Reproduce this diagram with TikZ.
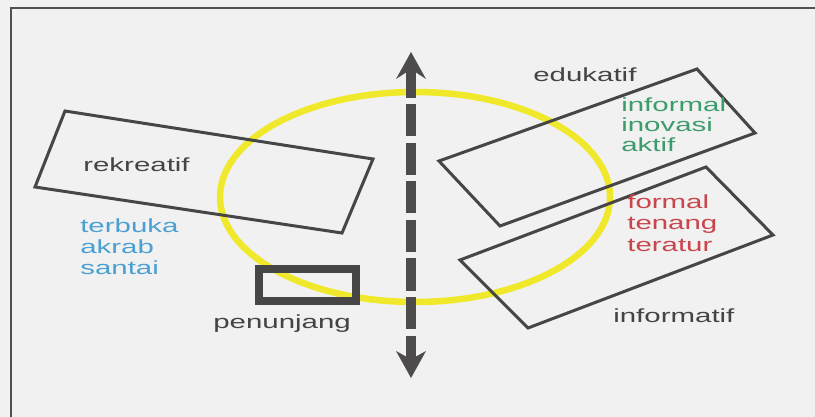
\documentclass[tikz,border=0pt]{standalone}
\usepackage{fontspec}
\setmainfont{Liberation Sans}
\begin{document}
\begin{tikzpicture}[x=1pt,y=-1pt,
  box/.style={draw=boxgray,line width=3pt,line join=miter},
  lbl/.style={inner sep=0pt,anchor=base west,xscale=1.55,font=\fontsize{19}{21}\selectfont},
  headfill/.style={fill=arrowgray,draw=none}]
\definecolor{bg}{HTML}{F1F1F1}
\definecolor{boxgray}{HTML}{464646}
\definecolor{arrowgray}{HTML}{4D4B4B}
\definecolor{txtgray}{HTML}{444444}
\definecolor{ylw}{HTML}{F0E92B}
\definecolor{blu}{HTML}{4BA0D3}
\definecolor{grn}{HTML}{3D9C6C}
\definecolor{rd}{HTML}{C8464C}
\definecolor{frame}{HTML}{505050}
\useasboundingbox (0,0) rectangle (815,417);
\fill[bg] (0,0) rectangle (815,417);
% frame
\coordinate (fbl) at (11,420);
\coordinate (ftl) at (11,8);
\coordinate (ftr) at (818,8);
\draw[frame,line width=2.5pt] (fbl) -- (ftl) -- (ftr);
% yellow ellipse
\coordinate (ec) at (415,197);
\draw[ylw,line width=6.5pt] (ec) ellipse [x radius=195, y radius=105];
% rekreatif box
\coordinate (r1) at (65,111);
\coordinate (r2) at (373,159);
\coordinate (r3) at (342,233);
\coordinate (r4) at (35,187);
\draw[box] (r1) -- (r2) -- (r3) -- (r4) -- cycle;
% edukatif box
\coordinate (e1) at (439,161);
\coordinate (e2) at (697,69);
\coordinate (e3) at (755,133);
\coordinate (e4) at (500,226);
\draw[box] (e1) -- (e2) -- (e3) -- (e4) -- cycle;
% informatif box
\coordinate (i1) at (460,260);
\coordinate (i2) at (706,167);
\coordinate (i3) at (773,235);
\coordinate (i4) at (528,328);
\draw[box] (i1) -- (i2) -- (i3) -- (i4) -- cycle;
% penunjang box
\coordinate (p1) at (259,269);
\coordinate (p2) at (356,301);
\draw[draw=boxgray,line width=8pt] (p1) rectangle (p2);
% double arrow
\coordinate (atop) at (411,52);
\coordinate (abot) at (411,378);
\coordinate (st) at (411,72);
\coordinate (sb) at (411,357);
\draw[arrowgray,line width=10pt,dash pattern=on 32pt off 6.5pt,dash phase=6pt] (st) -- (sb);
\fill[headfill] (atop) -- (426,79) -- (416,72.5) -- (406,72.5) -- (396,79) -- cycle;
\fill[headfill] (abot) -- (426,351) -- (416,356.5) -- (406,356.5) -- (396,351) -- cycle;
% labels
\node[lbl,text=txtgray] (trek) at (83,172) {rekreatif};
\node[lbl,text=blu] (tb1) at (80,233) {terbuka};
\node[lbl,text=blu] (tb2) at (80,254) {akrab};
\node[lbl,text=blu] (tb3) at (80,275) {santai};
\node[lbl,text=txtgray] (tpen) at (213,328) {penunjang};
\node[lbl,text=txtgray] (tedu) at (533,82) {edukatif};
\node[lbl,text=grn] (tg1) at (621,112) {informal};
\node[lbl,text=grn] (tg2) at (621,132) {inovasi};
\node[lbl,text=grn] (tg3) at (621,152) {aktif};
\node[lbl,text=rd] (tr1) at (627,209) {formal};
\node[lbl,text=rd] (tr2) at (627,230) {tenang};
\node[lbl,text=rd] (tr3) at (627,252) {teratur};
\node[lbl,text=txtgray] (tinf) at (613,323) {informatif};
\end{tikzpicture}
\end{document}
